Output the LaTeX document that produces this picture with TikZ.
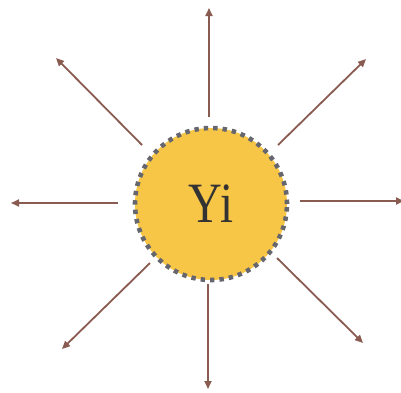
\documentclass[tikz,border=0pt]{standalone}
\usepackage{fontspec}
\setmainfont{Liberation Serif}
\usetikzlibrary{arrows.meta}
\definecolor{sunfill}{HTML}{F8C646}
\definecolor{dotcol}{HTML}{66666E}
\definecolor{raycol}{HTML}{8A5B50}
\tikzset{
  sun/.style={circle, fill=sunfill, draw=dotcol, line width=4.6pt,
    dash pattern=on 4.4pt off 5pt, minimum size=152pt, inner sep=0pt,
    font=\fontsize{57}{64}\selectfont, text=black!80},
  ray/.style={draw=raycol, line width=1.8pt, -{Triangle[length=8pt,width=7pt]}}
}
\begin{document}
\begin{tikzpicture}[x=1pt,y=-1pt]
\useasboundingbox (0,0) rectangle (401,392);
\node[sun] (c) at (211,204) {\scalebox{0.82}[1]{Yi}};
\coordinate (sU) at (209,117); \coordinate (eU) at (209,8);
\coordinate (sD) at (208,284); \coordinate (eD) at (208,389);
\coordinate (sL) at (118,203); \coordinate (eL) at (11,203);
\coordinate (sR) at (300,201); \coordinate (eR) at (404,201);
\coordinate (sUL) at (142,145); \coordinate (eUL) at (56,58);
\coordinate (sUR) at (278,145); \coordinate (eUR) at (366,59);
\coordinate (sDL) at (150,263); \coordinate (eDL) at (62,349);
\coordinate (sDR) at (277,258); \coordinate (eDR) at (363,343);
\foreach \d in {U,D,L,R,UL,UR,DL,DR} \draw[ray] (s\d) -- (e\d);
\end{tikzpicture}
\end{document}
